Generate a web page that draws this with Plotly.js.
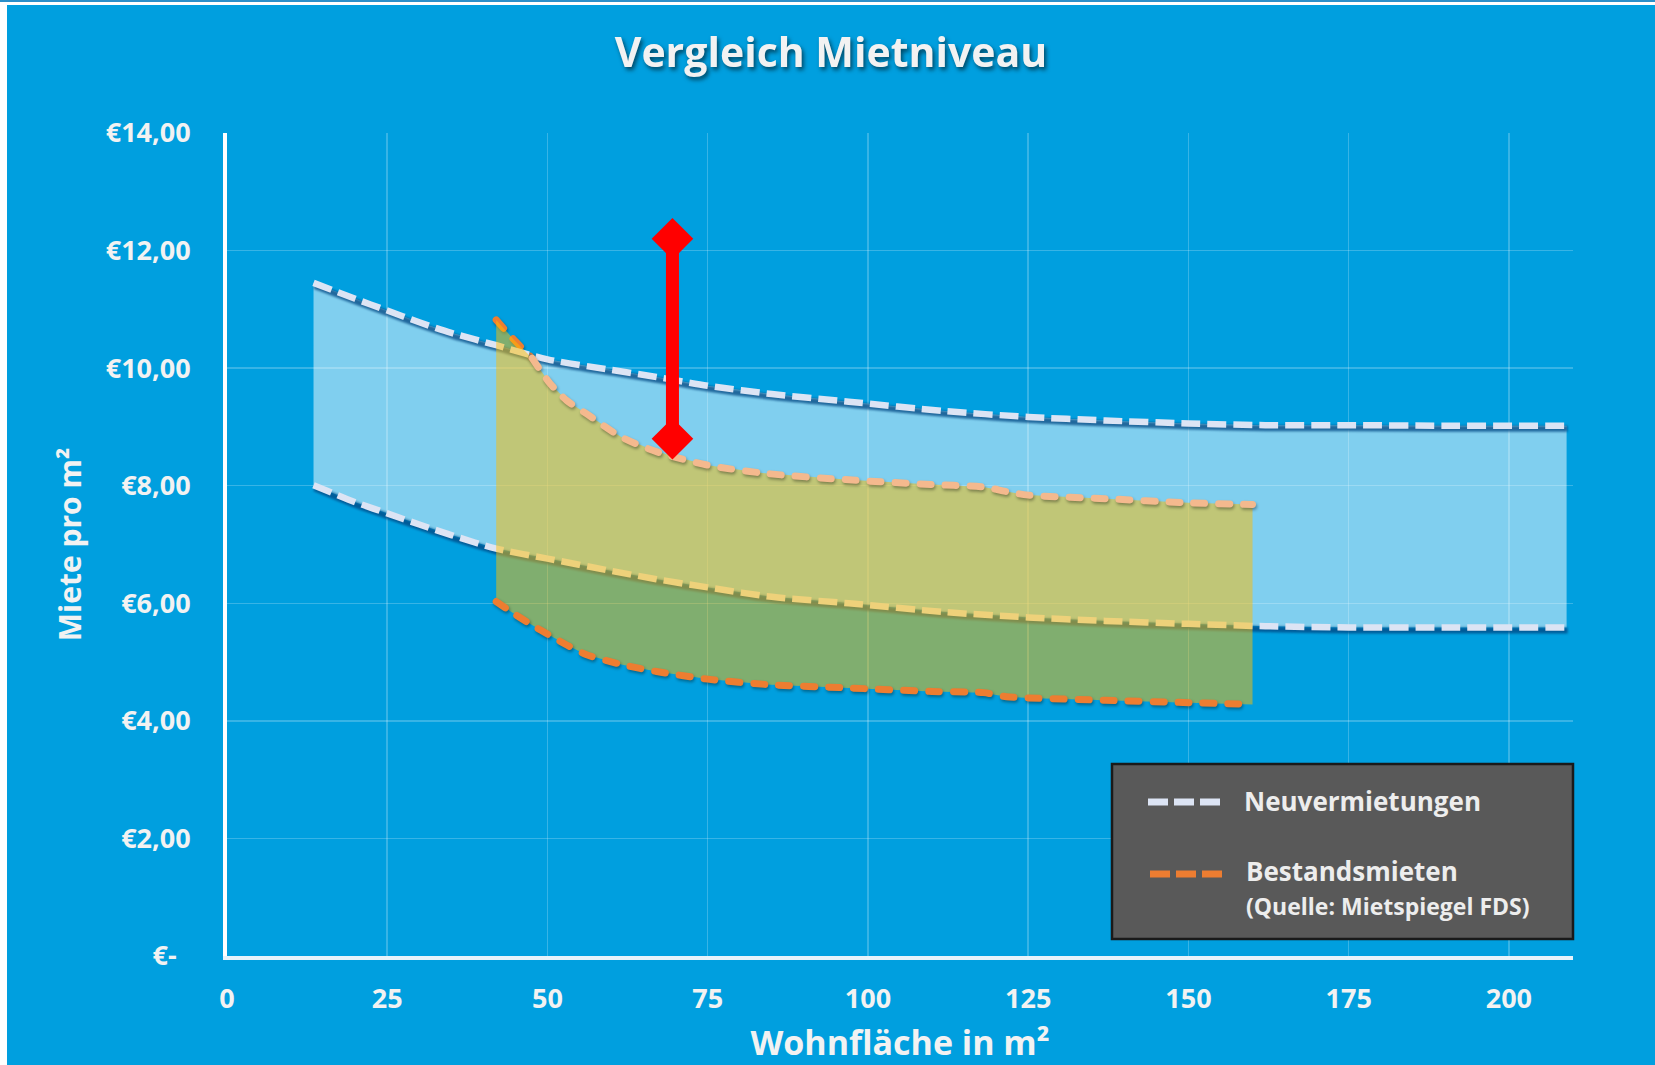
<!DOCTYPE html>
<html>
<head>
<meta charset="utf-8">
<script src="https://cdn.plot.ly/plotly-3.0.1.min.js"></script>
<style>
  html, body { margin: 0; padding: 0; background: #ffffff; width: 1655px; height: 1065px; overflow: hidden; }
  #topline { position: absolute; left: 0; top: 0; width: 1655px; height: 2px; background: #2b8fc9; }
  #chart { position: absolute; left: 7px; top: 5px; width: 1648px; height: 1060px; }
  .gtitle { filter: drop-shadow(2px 3px 2px rgba(0, 0, 0, 0.55)); }
</style>
</head>
<body>
<div id="topline"></div>
<div id="chart"></div>
<script>
// Neuvermietungen: upper and lower bound of rent per m² by living area
const neuX     = [13.5, 20, 25, 30, 35, 42, 50, 60, 67, 75, 85, 97, 112, 125, 137, 150, 162, 175, 190, 209];
const neuUpper = [11.45, 11.18, 10.98, 10.78, 10.60, 10.39, 10.15, 9.97, 9.85, 9.70, 9.56, 9.43, 9.27, 9.17, 9.11, 9.06, 9.03, 9.03, 9.02, 9.02];
const neuLower = [8.01, 7.72, 7.53, 7.34, 7.16, 6.93, 6.76, 6.55, 6.41, 6.27, 6.11, 6.00, 5.85, 5.76, 5.70, 5.65, 5.61, 5.59, 5.59, 5.59];

// Bestandsmieten (Mietspiegel FDS): upper and lower bound
const bestX     = [42, 44.8, 47.6, 50.4, 53, 56, 61.5, 67, 75, 84, 97, 110, 118, 121.6, 125, 137, 150, 160];
const bestUpper = [10.82, 10.48, 10.17, 9.74, 9.45, 9.23, 8.83, 8.58, 8.35, 8.21, 8.10, 8.02, 7.98, 7.90, 7.84, 7.78, 7.71, 7.68];
const bestLower = [6.03, 5.82, 5.63, 5.45, 5.29, 5.13, 4.96, 4.84, 4.71, 4.62, 4.56, 4.50, 4.48, 4.41, 4.39, 4.35, 4.31, 4.28];

// Highlighted range (red double arrow)
const markX = [69.5, 69.5];
const markY = [8.8, 12.2];

// Axis ticks
const yTickVals = [0, 2, 4, 6, 8, 10, 12, 14];
const yTickText = ['€-\u00A0\u00A0', '€2,00', '€4,00', '€6,00', '€8,00', '€10,00', '€12,00', '€14,00'];
const xTickVals = [0, 25, 50, 75, 100, 125, 150, 175, 200];

// Legend entries
const legendNames = ['Neuvermietungen', 'Bestandsmieten'];
const legendNote = '(Quelle: Mietspiegel FDS)';

const BG = '#009FDF';
const NEU_LINE = '#DCE4F4';
const BEST_LINE = '#ED7D31';
const BEST_LIGHT = '#F4B98E';
const FONT = 'Open Sans, Noto Sans, sans-serif';
const TXT = '#F2F2F2';

// closed band polygon: upper edge left→right, lower edge right→left
function band(x, up, lo) {
  return {
    x: x.concat(x.slice().reverse(), [x[0]]),
    y: up.concat(lo.slice().reverse(), [up[0]])
  };
}
const neuBand = band(neuX, neuUpper, neuLower);
const bestBand = band(bestX, bestUpper, bestLower);

const SPL = { shape: 'spline', smoothing: 0.8 };
const base = { type: 'scatter', showlegend: false, hoverinfo: 'skip' };
const BEST_DASH = '11px,14px';
const NEU_DASH = '19px,7px';

const traces = [
  // start of the upper Bestandsmieten bound (above the light band)
  Object.assign({}, base, { x: bestX.slice(0, 3), y: bestUpper.slice(0, 3), mode: 'lines', meta: 'round',
    line: Object.assign({ color: BEST_LINE, width: 7, dash: BEST_DASH }, SPL) }),
  // Neuvermietungen band
  Object.assign({}, base, { x: neuBand.x, y: neuBand.y, mode: 'none', fill: 'toself',
    fillcolor: 'rgba(255,255,255,0.5)' }),
  // shadows under the Neuvermietungen lines
  Object.assign({}, base, { x: neuX, y: neuUpper, mode: 'lines', meta: 'shadow',
    line: Object.assign({ color: 'rgba(0,70,130,0.75)', width: 6 }, SPL) }),
  Object.assign({}, base, { x: neuX, y: neuLower, mode: 'lines', meta: 'shadow',
    line: Object.assign({ color: 'rgba(0,70,130,0.75)', width: 6 }, SPL) }),
  // Neuvermietungen lines
  Object.assign({}, base, { x: neuX, y: neuUpper, name: legendNames[0], mode: 'lines',
    line: Object.assign({ color: NEU_LINE, width: 6.5, dash: NEU_DASH }, SPL) }),
  Object.assign({}, base, { x: neuX, y: neuLower, name: legendNames[0], mode: 'lines',
    line: Object.assign({ color: NEU_LINE, width: 6.5, dash: NEU_DASH }, SPL) }),
  // Bestandsmieten band
  Object.assign({}, base, { x: bestBand.x, y: bestBand.y, mode: 'none', fill: 'toself',
    fillcolor: 'rgba(255,189,0,0.5)' }),
  // Bestandsmieten lines
  Object.assign({}, base, { x: bestX.slice(2), y: bestUpper.slice(2), name: legendNames[1], mode: 'lines', meta: 'round',
    line: Object.assign({ color: BEST_LIGHT, width: 7, dash: BEST_DASH }, SPL) }),
  Object.assign({}, base, { x: bestX, y: bestLower, name: legendNames[1], mode: 'lines', meta: 'round',
    line: Object.assign({ color: BEST_LINE, width: 7, dash: BEST_DASH }, SPL) }),
  // red range marker
  Object.assign({}, base, { x: markX, y: markY, mode: 'lines+markers',
    line: { color: '#FF0000', width: 13 },
    marker: { symbol: 'diamond', size: 32, color: '#FF0000', line: { width: 0 } } })
];

// plot-area geometry (px inside the chart div)
const M = { l: 220, r: 82, t: 128, b: 109 };
const W = 1648, H = 1060;
const PW = W - M.l - M.r, PH = H - M.t - M.b;
// page pixel → paper coordinate (chart div sits at 7,5 on the page)
const px = v => (v - 7 - M.l) / PW;
const py = v => 1 - (v - 5 - M.t) / PH;

const legendShapes = [
  { type: 'rect', xref: 'paper', yref: 'paper', x0: px(1112), x1: px(1573), y0: py(939), y1: py(764),
    fillcolor: '#595959', line: { color: '#1A1A1A', width: 2.5 }, layer: 'above' },
  { type: 'line', xref: 'paper', yref: 'paper', x0: px(1148), x1: px(1220), y0: py(802), y1: py(802),
    line: { color: NEU_LINE, width: 7, dash: '20px,6px' }, layer: 'above' },
  { type: 'line', xref: 'paper', yref: 'paper', x0: px(1150), x1: px(1222), y0: py(874), y1: py(874),
    line: { color: BEST_LINE, width: 7, dash: '20px,6px' }, layer: 'above' }
];

const legendAnnotations = [
  { xref: 'paper', yref: 'paper', x: px(1242), y: py(801), xanchor: 'left', yanchor: 'middle', showarrow: false,
    text: legendNames[0], font: { family: FONT, size: 26, weight: 700, color: '#EDEDED' } },
  { xref: 'paper', yref: 'paper', x: px(1244), y: py(871), xanchor: 'left', yanchor: 'middle', showarrow: false,
    text: legendNames[1], font: { family: FONT, size: 26, weight: 700, color: '#EDEDED' } },
  { xref: 'paper', yref: 'paper', x: px(1244), y: py(906), xanchor: 'left', yanchor: 'middle', showarrow: false,
    text: legendNote, font: { family: FONT, size: 23, weight: 700, color: '#EDEDED' } }
];

const layout = {
  width: W, height: H,
  margin: M,
  paper_bgcolor: BG,
  plot_bgcolor: BG,
  showlegend: false,
  title: {
    text: 'Vergleich Mietniveau',
    font: { family: FONT, size: 41, weight: 700, color: TXT },
    x: 0.5, xref: 'container', xanchor: 'center',
    y: 1 - 48 / H, yref: 'container', yanchor: 'middle'
  },
  xaxis: {
    range: [0, 210],
    tickvals: xTickVals,
    ticktext: xTickVals.map(String),
    ticks: 'outside', ticklen: 16, tickcolor: 'rgba(0,0,0,0)',
    tickfont: { family: FONT, size: 27, weight: 700, color: TXT },
    showgrid: true, gridcolor: 'rgba(255,255,255,0.22)', gridwidth: 1.5,
    zeroline: false,
    showline: true, linecolor: '#E6F3FB', linewidth: 4,
    title: { text: 'Wohnfläche in m²', font: { family: FONT, size: 34, weight: 700, color: TXT }, standoff: 23 },
    fixedrange: true
  },
  yaxis: {
    range: [0, 14],
    tickvals: yTickVals,
    ticktext: yTickText,
    ticks: 'outside', ticklen: 27, tickcolor: 'rgba(0,0,0,0)',
    tickfont: { family: FONT, size: 27, weight: 700, color: TXT },
    showgrid: true, gridcolor: 'rgba(255,255,255,0.22)', gridwidth: 1.5,
    zeroline: false,
    showline: true, linecolor: '#FFFFFF', linewidth: 4,
    title: { text: 'Miete pro m²', font: { family: FONT, size: 30, weight: 700, color: TXT }, standoff: 16 },
    fixedrange: true
  },
  shapes: legendShapes,
  annotations: legendAnnotations
};

Plotly.newPlot('chart', traces, layout, { displayModeBar: false, staticPlot: true }).then(gd => {
  // per-trace stroke styling: rounded dash ends and offset soft shadows
  const groups = gd.querySelectorAll('.scatterlayer .trace');
  gd.data.forEach((tr, i) => {
    const g = groups[i];
    if (!g) return;
    g.querySelectorAll('path.js-line').forEach(p => {
      if (tr.meta === 'round') {
        p.style.setProperty('stroke-linecap', 'round', 'important');
        p.style.setProperty('filter', 'drop-shadow(1px 2px 1.5px rgba(0,0,0,0.35))');
      } else if (tr.meta === 'shadow') {
        p.setAttribute('transform', 'translate(1,3)');
        p.style.setProperty('filter', 'blur(1px)');
      }
    });
  });
});
</script>
</body>
</html>
